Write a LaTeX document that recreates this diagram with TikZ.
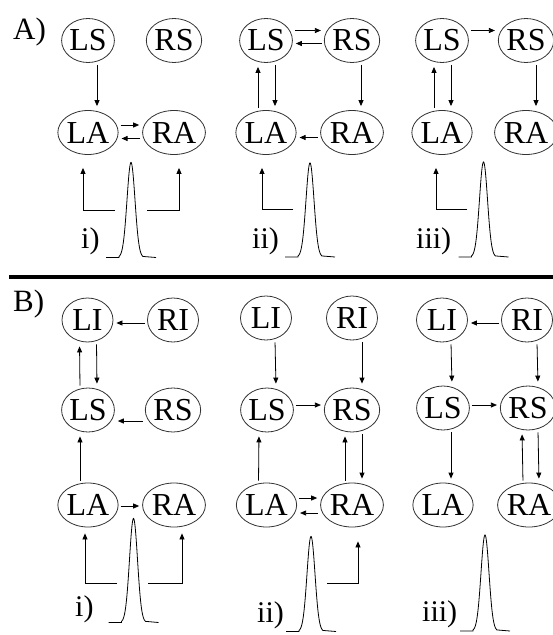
\documentclass[tikz,border=0pt]{standalone}
\usepackage{fontspec}
\setmainfont{Liberation Serif}
\usetikzlibrary{shapes.geometric,arrows.meta}
\begin{document}
\begin{tikzpicture}[x=1pt,y=-1pt,
  st/.style={ellipse,draw=black!80,line width=0.8pt,minimum width=51pt,minimum height=44pt,inner sep=0pt,font=\fontsize{32}{32}\selectfont},
  arr/.style={-{Triangle[length=6pt,width=5pt]},line width=0.8pt,shorten <=2pt,shorten >=3pt},
  varr/.style={-{Triangle[length=6pt,width=5pt]},line width=0.8pt,shorten <=2pt,shorten >=4pt},
  larr/.style={-{Triangle[length=6pt,width=5pt]},line width=0.8pt,shorten >=13pt},
  lab/.style={anchor=base west,inner sep=0pt,font=\fontsize{30}{30}\selectfont},
  pan/.style={anchor=base west,inner sep=0pt,font=\fontsize{31}{31}\selectfont},
  peak/.style={line width=0.8pt}]
\useasboundingbox (0,0) rectangle (553,635);

% ---------------- Panel A ----------------
\node[pan] (Alab) at (13,39) {A)};
% column i
\node[st] (ALSi) at (88,40.5) {LS};
\node[st] (ARSi) at (174,40.5) {RS};
\node[st] (ALAi) at (88,132.5) {LA};
\node[st] (ARAi) at (174,132.5) {RA};
% column ii
\node[st] (ALSii) at (266,40.5) {LS};
\node[st] (ARSii) at (352,40.5) {RS};
\node[st] (ALAii) at (266,132.5) {LA};
\node[st] (ARAii) at (352,132.5) {RA};
% column iii
\node[st] (ALSiii) at (442,40.5) {LS};
\node[st] (ARSiii) at (526,40.5) {RS};
\node[st] (ALAiii) at (442,132.5) {LA};
\node[st] (ARAiii) at (526,132.5) {RA};

% A i arrows
\draw[varr] ([xshift=9pt]ALSi.south) -- ([xshift=9pt]ALAi.north);
\draw[arr] ([yshift=7.5pt]ALAi.east) -- ([yshift=7.5pt]ARAi.west);
\draw[arr] ([yshift=-6pt]ARAi.west) -- ([yshift=-6pt]ALAi.east);
% A ii arrows
\draw[arr] ([yshift=10pt]ALSii.east) -- ([yshift=10pt]ARSii.west);
\draw[arr] ([yshift=-3pt]ARSii.west) -- ([yshift=-3pt]ALSii.east);
\draw[varr] ([xshift=-8pt]ALAii.north) -- ([xshift=-8pt]ALSii.south);
\draw[varr] ([xshift=9pt]ALSii.south) -- ([xshift=9pt]ALAii.north);
\draw[varr] ([xshift=9pt]ARSii.south) -- ([xshift=9pt]ARAii.north);
\draw[arr] ([yshift=-5pt]ARAii.west) -- ([yshift=-5pt]ALAii.east);
% A iii arrows
\draw[arr] ([yshift=10pt]ALSiii.east) -- ([yshift=10pt]ARSiii.west);
\draw[varr] ([xshift=-8pt]ALAiii.north) -- ([xshift=-8pt]ALSiii.south);
\draw[varr] ([xshift=9pt]ALSiii.south) -- ([xshift=9pt]ALAiii.north);
\draw[varr] ([xshift=10pt]ARSiii.south) -- ([xshift=10pt]ARAiii.north);

% A stimulus L-arrows
\coordinate (Ai1) at (115,210);
\coordinate (Ai2) at (147,210);
\coordinate (Aii1) at (293,209);
\coordinate (Aiii1) at (467,209);
\draw[larr] (Ai1) -| ([xshift=-5pt]ALAi.south);
\draw[larr] (Ai2) -| ([xshift=5pt]ARAi.south);
\draw[larr] (Aii1) -| ([xshift=-4pt]ALAii.south);
\draw[larr] (Aiii1) -| ([xshift=-6pt]ALAiii.south);

% A labels
\node[lab] (Ailab) at (81,248) {i)};
\node[lab] (Aiilab) at (252,248) {ii)};
\node[lab] (Aiiilab) at (416,248) {iii)};

% divider
\draw[line width=4pt] (9,277) -- (553,277);

% ---------------- Panel B ----------------
\node[pan] (Blab) at (13,311.5) {B)};
% column i
\node[st] (BLIi) at (87.5,320) {LI};
\node[st] (BRIi) at (173,320) {RI};
\node[st] (BLSi) at (88,410) {LS};
\node[st] (BRSi) at (173,410) {RS};
\node[st] (BLAi) at (88,505) {LA};
\node[st] (BRAi) at (174,505) {RA};
% column ii
\node[st] (BLIii) at (266,318) {LI};
\node[st] (BRIii) at (352,318) {RI};
\node[st] (BLSii) at (267,410) {LS};
\node[st] (BRSii) at (352,410) {RS};
\node[st] (BLAii) at (266.5,505) {LA};
\node[st] (BRAii) at (352,505) {RA};
% column iii
\node[st] (BLIiii) at (442,320) {LI};
\node[st] (BRIiii) at (527,320) {RI};
\node[st] (BLSiii) at (443,408) {LS};
\node[st] (BRSiii) at (528,408) {RS};
\node[st] (BLAiii) at (443,505) {LA};
\node[st] (BRAiii) at (529,505) {RA};

% B i arrows
\draw[arr] ([yshift=-3pt]BRIi.west) -- ([yshift=-3pt]BLIi.east);
\draw[varr] ([xshift=-8pt]BLSi.north) -- ([xshift=-8pt]BLIi.south);
\draw[varr] ([xshift=9pt]BLIi.south) -- ([xshift=9pt]BLSi.north);
\draw[arr] ([yshift=-11pt]BRSi.west) -- ([yshift=-11pt]BLSi.east);
\draw[varr] ([xshift=-8pt]BLAi.north) -- ([xshift=-8pt]BLSi.south);
\draw[arr] ([yshift=-1pt]BLAi.east) -- ([yshift=-1pt]BRAi.west);
% B ii arrows
\draw[varr] ([xshift=9pt]BLIii.south) -- ([xshift=9pt]BLSii.north);
\draw[varr] ([xshift=10pt]BRIii.south) -- ([xshift=10pt]BRSii.north);
\draw[arr] ([yshift=5pt]BLSii.east) -- ([yshift=5pt]BRSii.west);
\draw[varr] ([xshift=-8pt]BLAii.north) -- ([xshift=-8pt]BLSii.south);
\draw[varr] ([xshift=-7pt]BRAii.north) -- ([xshift=-7pt]BRSii.south);
\draw[varr] ([xshift=10pt]BRSii.south) -- ([xshift=10pt]BRAii.north);
\draw[arr] ([yshift=7pt]BLAii.east) -- ([yshift=7pt]BRAii.west);
\draw[arr] ([yshift=-8pt]BRAii.west) -- ([yshift=-8pt]BLAii.east);
% B iii arrows
\draw[arr] ([yshift=-3pt]BRIiii.west) -- ([yshift=-3pt]BLIiii.east);
\draw[varr] ([xshift=9pt]BLIiii.south) -- ([xshift=9pt]BLSiii.north);
\draw[varr] ([xshift=10pt]BRIiii.south) -- ([xshift=10pt]BRSiii.north);
\draw[arr] ([yshift=3pt]BLSiii.east) -- ([yshift=3pt]BRSiii.west);
\draw[varr] ([xshift=8pt]BLSiii.south) -- ([xshift=8pt]BLAiii.north);
\draw[varr] ([xshift=-6pt]BRAiii.north) -- ([xshift=-6pt]BRSiii.south);
\draw[varr] ([xshift=10pt]BRSiii.south) -- ([xshift=10pt]BRAiii.north);

% B stimulus L-arrows
\coordinate (Bi1) at (117,583);
\coordinate (Bi2) at (148,583);
\coordinate (Bii1) at (327,583);
\draw[larr,shorten >=6pt] (Bi1) -| ([xshift=-3pt]BLAi.south);
\draw[larr,shorten >=6pt] (Bi2) -| ([xshift=8pt]BRAi.south);
\draw[larr,shorten >=14pt] (Bii1) -| ([xshift=6pt]BRAii.south);

% B labels
\node[lab] (Bilab) at (75,616) {i)};
\node[lab] (Biilab) at (257,622) {ii)};
\node[lab] (Biiilab) at (422,621) {iii)};

% ---------------- peaks ----------------
\foreach \c/\b/\h in {131/257.5/95, 310/257/94, 483.5/257/95, 133.5/622.5/104, 311/631.5/95, 485/631/96}{
  \draw[peak] (\c-25,\b) -- (\c-12,\b) -- plot[domain=-12:12,samples=61,smooth] ({\c+\x},{\b-\h*exp(-(\x)*(\x)/32)}) -- (\c+25,\b);
}
\end{tikzpicture}
\end{document}
